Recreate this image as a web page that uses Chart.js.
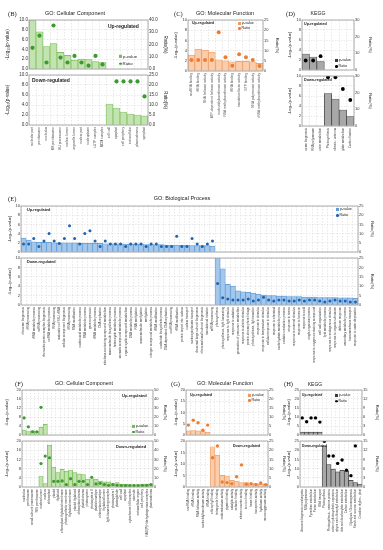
<!DOCTYPE html>
<html>
<head>
<meta charset="utf-8">
<script src="https://cdn.jsdelivr.net/npm/chart.js@4.4.0/dist/chart.umd.min.js"></script>
<style>
html, body { margin: 0; padding: 0; background: #fff; }
#fig { position: relative; width: 383px; height: 550px; overflow: hidden; font-family: "Liberation Sans", Arial, sans-serif; color: #222; }
#fig canvas { position: absolute; }
.t { position: absolute; white-space: nowrap; line-height: 1; transform: translateY(-50%); }
.c { transform: translate(-50%, -50%); }
.pl { font-family: "Liberation Serif", "Times New Roman", serif; font-size: 6.5px; }
.ud { font-weight: bold; }
.sw { display: inline-block; vertical-align: middle; margin-right: 1px; box-sizing: border-box; }
</style>
</head>
<body>
<div id="fig"></div>
<script>
// (B) GO: Cellular Component
const bLabels = ['nucleolar part', 'preribosome', 'nucleolus', '90S preribosome', 'SSU processome', 'nuclear lumen',
  'organelle lumen', 'nuclear part', 'nucleoplasm', 't-UTP complex', 'MCM complex',
  'cell wall', 'apoplast', 'cell periphery', 'extracellular', 'plasmodesma', 'symplast'];
const bUpP = [9.9, 7.6, 4.6, 5.2, 3.4, 2.8, 1.8, 2.0, 1.9, 1.5, 1.3];
const bUpR = [17.3, 27.2, 5.3, 35.5, 9.3, 5.3, 10.7, 5.3, 2.7, 10.7, 3.7];
const bDownP = [4.2, 3.4, 2.6, 2.2, 2.0, 1.8];
const bDownR = [null, 21.8, 21.8, 21.8, 21.8, 14.3];

// (C) GO: Molecular Function
const cLabels = ['snoRNA binding', 'rRNA binding', 'RNA helicase activity', 'ATP-dependent helicase activity',
  'nucleotidyltransferase activity', 'RNA methyltransferase activity', 'tRNA binding',
  'translation factor activity', 'GTP binding', 'RNA polymerase activity', 'rRNA methyltransferase activity'];
const cUpP = [3.1, 4.3, 4.1, 3.7, 2.2, 2.0, 1.8, 1.9, 1.9, 1.8, 1.5];
const cUpR = [5.4, 5.4, 5.4, 5.4, 19.0, 6.7, 2.6, 8.2, 6.7, 5.4, 2.5];

// (D) KEGG
const dLabels = ['Ribosome biogenesis', 'RNA polymerase', 'Purine metabolism', 'Photosynthesis',
  'Photosynthesis - antenna', 'Glyoxylate metabolism', 'Carbon fixation'];
const dUpP = [3.2, 2.6, 1.7];
const dUpR = [5.7, 5.7, 8.3];
const dDownP = [6.5, 5.4, 3.2, 1.9];
const dDownR = [29.2, 29.2, 22.2, 15.6];

// (E) GO: Biological Process
const eUpLabels = ['ribosome biogenesis', 'rRNA processing', 'rRNA metabolic process', 'ncRNA processing',
  'ribonucleoprotein complex biogenesis', 'ncRNA metabolic process', 'RNA processing', 'maturation of SSU-rRNA',
  'cellular component biogenesis', 'tRNA processing', 'RNA modification', 'nucleic acid metabolic process',
  'RNA metabolic process', 'gene expression', 'tRNA metabolic process', 'DNA replication',
  'nucleobase-containing compound metabolism', 'macromolecule biosynthetic process', 'heterocycle metabolic process',
  'aromatic compound metabolic process', 'organic cyclic compound metabolism', 'DNA metabolic process',
  'RNA methylation', 'macromolecule methylation', 'methylation', 'nitrogen compound metabolic process',
  'tRNA modification', 'nucleotide biosynthetic process', 'DNA-dependent DNA replication', 'snoRNA processing',
  'rRNA modification', 'protein import into nucleus', 'nuclear transport', 'nucleocytoplasmic transport',
  'ribosomal large subunit biogenesis', 'ribosomal small subunit biogenesis', 'translational initiation',
  'mRNA processing'];
const eDownLabels = ['photosynthesis', 'photosynthesis, light harvesting', 'response to light stimulus',
  'response to radiation', 'generation of precursor metabolites', 'response to abiotic stimulus',
  'protein-chromophore linkage', 'photosynthesis, light reaction', 'response to stimulus',
  'response to temperature stimulus', 'cellular response to stimulus', 'response to chemical',
  'carbohydrate metabolic process', 'oxidation-reduction process', 'response to stress',
  'response to external stimulus', 'response to hormone', 'response to cold', 'single-organism process',
  'response to oxygen-containing compound', 'cell wall organization', 'lipid metabolic process',
  'response to endogenous stimulus', 'response to organic substance', 'defense response',
  'secondary metabolic process', 'transmembrane transport', 'response to water deprivation'];
const eUpP = [3.0, 2.6, 2.2, 2.1, 2.1, 2.1, 2.0, 2.0, 2.0, 2.0, 2.0, 1.9, 1.9, 1.9, 1.9, 1.9, 1.8, 1.8, 1.8,
  1.8, 1.7, 1.7, 1.7, 1.7, 1.6, 1.6, 1.6, 1.6, 1.5, 1.5, 1.5, 1.5, 1.5, 1.4, 1.4, 1.4, 1.4, 1.3];
const eUpR = [4.4, 4.4, 7.4, 3.0, 6.0, 10.0, 6.0, 4.6, 7.4, 14.3, 7.4, 4.4, 10.0, 11.6, 6.0, 3.0, 6.0, 4.4, 4.4,
  4.4, 3.0, 4.4, 4.4, 4.4, 3.0, 4.4, 4.4, 3.0, 3.0, 3.0, 8.5, 3.0, 3.0, 7.4, 4.4, 3.0, 4.4, 6.0];
const eDownP = [10.5, 7.7, 4.4, 4.0, 3.0, 2.8, 2.7, 2.5, 2.3, 2.1, 2.0, 2.0, 1.9, 1.9, 1.8, 1.8, 1.8, 1.7, 1.7,
  1.7, 1.6, 1.6, 1.6, 1.6, 1.5, 1.5, 1.5, 1.4];
const eDownR = [11.5, 3.9, 3.2, 2.7, 2.7, 2.7, 3.2, 2.1, 2.7, 4.1, 2.7, 2.1, 2.7, 2.7, 2.1, 2.1, 2.7, 2.1, 2.7,
  2.7, 2.1, 1.6, 2.1, 2.7, 2.1, 2.1, 1.6, 1.6];

// (F) GO: Cellular Component
const fLabels = ['nucleolus', 'preribosome', 'small-subunit processome', '90S preribosome', 'nuclear lumen',
  'nucleus', 'chloroplast', 'plastid', 'thylakoid', 'chloroplast thylakoid membrane', 'photosynthetic membrane',
  'thylakoid membrane', 'plastid thylakoid', 'chloroplast stroma', 'plastid stroma', 'photosystem',
  'photosystem II', 'plastid envelope', 'chloroplast envelope', 'thylakoid lumen', 'light-harvesting complex',
  'photosystem I', 'plastoglobule', 'cell wall', 'apoplast', 'cytochrome b6f complex', 'stromule',
  'extracellular region', 'cell periphery', 'NAD(P)H dehydrogenase complex', 'plasmodesma'];
const fUpP = [2.2, 1.5, 1.8, 1.5, 3.5, 4.7];
const fUpR = [19.0, 9.1, 3.6, 3.6, 30.7, null];
const fDownStart = 4;
const fDownP = [4.8, 1.5, 18.2, 8.6, 6.3, 7.7, 6.9, 7.4, 6.3, 5.7, 5.4, 3.4, 3.6, 3.4, 2.6, 2.2, 2.2, 1.5, 1.9,
  1.3, 1.2, 1.1, 1.0, 1.0, 1.1, 1.2, 1.3];
const fDownR = [25.5, 33.6, 31.8, 6.2, 6.2, 6.6, 2.6, 9.1, 2.6, 6.2, 6.2, 2.6, 10.6, 3.3, 4.0, 2.6, 1.8, 2.6,
  1.8, 1.5, 1.5, 1.5, 1.5, 1.5, 1.8, 1.8, 2.6];

// (G) GO: Molecular Function
const gLabels = ['snoRNA binding', 'rRNA binding', 'RNA helicase activity', 'nucleotidyltransferase activity',
  'tRNA binding', 'chlorophyll binding', 'tetrapyrrole binding', 'oxidoreductase activity', 'pigment binding',
  'catalytic activity', 'cofactor binding', 'electron carrier activity', 'iron ion binding', 'heme binding',
  'transporter activity', 'hydrolase activity', 'monooxygenase activity'];
const gUpP = [1.8, 2.0, 1.8, 1.5, 1.3];
const gUpR = [5.5, 8.2, 6.8, 2.6, 5.5];
const gDownP = [17.5, 13.9, 5.1, 4.8, 2.9, 2.5, 1.9, 1.9, 1.5, 1.5, 1.3, 1.2];
const gDownR = [15.9, 22.3, 2.7, 2.4, 1.8, 5.6, 12.0, 1.5, 1.8, 1.3, 2.2, 1.3];

// (H) KEGG
const hLabels = ['Ribosome biogenesis in eukaryotes', 'RNA polymerase', 'Pyrimidine metabolism',
  'Purine metabolism', 'RNA transport', 'Photosynthesis', 'Photosynthesis - antenna proteins',
  'Carbon fixation in photosynthetic organisms', 'Porphyrin and chlorophyll metabolism',
  'Glyoxylate and dicarboxylate metabolism', 'Carbon metabolism', 'Glycolysis / Gluconeogenesis',
  'Starch and sucrose metabolism', 'Circadian rhythm - plant'];
const hUpP = [1.6, 1.6, 1.6, 1.6, 1.6];
const hUpR = [5.7, 4.4, 5.7, 5.7, 4.3];
const hDownP = [22.3, 12.2, 9.7, 8.2, 9.1, 8.6, 3.6, 2.4, 1.5];
const hDownR = [14.9, 10.1, 10.1, 7.7, 8.8, 5.5, 3.7, 13.4, null];

const fig = document.getElementById('fig');
const themes = {
  green: { fill: 'rgba(192,226,172,0.95)', edge: '#74bb52', dot: '#3c9a30' },
  orange: { fill: 'rgba(250,202,168,0.95)', edge: '#f09a60', dot: '#ed7d31' },
  gray: { fill: '#a8a8a8', edge: '#3a3a3a', dot: '#000000' },
  blue: { fill: 'rgba(160,196,234,0.95)', edge: '#5b9bd5', dot: '#1f62ae' }
};

// put a short list into a full-length category list
function place(n, start, vals) {
  const a = new Array(n).fill(null);
  vals.forEach((v, i) => { a[start + i] = v; });
  return a;
}

const frame = {
  id: 'frame',
  afterDatasetsDraw(chart) {
    const a = chart.chartArea, ctx = chart.ctx;
    ctx.save();
    ctx.strokeStyle = '#9a9a9a';
    ctx.lineWidth = 0.8;
    ctx.strokeRect(a.left, a.top, a.right - a.left, a.bottom - a.top);
    ctx.restore();
  }
};

function subplot(o) {
  const [x0, y0, x1, y1] = o.rect;
  const T = 4;
  const w = x1 - x0 + o.L + o.R, h = y1 - y0 + T + o.B;
  const cv = document.createElement('canvas');
  cv.width = w; cv.height = h;
  cv.style.left = (x0 - o.L) + 'px';
  cv.style.top = (y0 - T) + 'px';
  cv.style.width = w + 'px';
  cv.style.height = h + 'px';
  fig.appendChild(cv);
  const th = themes[o.theme];
  const fs = o.fs || 4;
  const fmt = o.dec ? v => v.toFixed(1) : v => v;
  const grid = { color: '#d2d2d2', lineWidth: 0.5, drawTicks: false };
  const border = { display: false, dash: [1.5, 1.5] };
  new Chart(cv, {
    type: 'bar',
    data: {
      labels: o.labels,
      datasets: [
        { type: 'line', data: o.ratio, yAxisID: 'y1', showLine: false, pointRadius: o.pr || 1.6,
          pointBackgroundColor: th.dot, pointBorderWidth: 0, order: 0 },
        { type: 'bar', data: o.bars, yAxisID: 'y', backgroundColor: th.fill, borderColor: th.edge,
          borderWidth: 0.7, categoryPercentage: 1, barPercentage: 1, order: 1 }
      ]
    },
    options: {
      responsive: false, animation: false, devicePixelRatio: 1,
      layout: { padding: { top: T, left: 0, right: 0, bottom: 0 } },
      plugins: { legend: { display: false }, tooltip: { enabled: false } },
      scales: {
        x: {
          grid: grid, border: border,
          ticks: { display: o.showX, autoSkip: false, maxRotation: 90, minRotation: 90,
            font: { size: o.xfs || 3.2 }, color: '#444', padding: 2 },
          afterFit: s => { s.height = o.B; }
        },
        y: {
          position: 'left', min: 0, max: o.ymax,
          ticks: { stepSize: o.ystep, callback: fmt, font: { size: fs }, color: '#333', padding: 1 },
          grid: grid, border: border,
          title: { display: true, text: '-Log₁₀(p-value)', font: { size: o.tfs || 4 }, color: '#222', padding: 0 },
          afterFit: s => { s.width = o.L; }
        },
        y1: {
          position: 'right', min: 0, max: o.rmax,
          ticks: { stepSize: o.rstep, callback: fmt, font: { size: fs }, color: '#333', padding: 1 },
          grid: { display: false, drawTicks: false }, border: { display: false },
          title: { display: true, text: 'Ratio(%)', font: { size: o.tfs || 4 }, color: '#222', padding: 0 },
          afterFit: s => { s.width = o.R; }
        }
      }
    },
    plugins: [frame]
  });
}

function txt(x, y, s, cls, size, center) {
  const d = document.createElement('div');
  d.className = 't ' + (cls || '') + (center ? ' c' : '');
  d.style.left = x + 'px';
  d.style.top = y + 'px';
  if (size) d.style.fontSize = size + 'px';
  d.textContent = s;
  fig.appendChild(d);
}

function legend(x, y, theme, size, gap) {
  const th = themes[theme];
  const r1 = document.createElement('div');
  r1.className = 't';
  r1.style.cssText = `left:${x}px;top:${y}px;font-size:${size}px`;
  r1.innerHTML = `<span class="sw" style="width:3px;height:3px;background:${th.fill};border:0.6px solid ${th.edge}"></span>p-value`;
  fig.appendChild(r1);
  const r2 = document.createElement('div');
  r2.className = 't';
  r2.style.cssText = `left:${x}px;top:${y + gap}px;font-size:${size}px`;
  r2.innerHTML = `<span class="sw" style="width:2.6px;height:2.6px;border-radius:50%;background:${th.dot}"></span>Ratio`;
  fig.appendChild(r2);
}

// ---- B
const nB = bLabels.length;
subplot({ rect: [29, 20, 148, 70], L: 24, R: 20, B: 3, labels: bLabels, theme: 'green', showX: false,
  bars: place(nB, 0, bUpP), ratio: place(nB, 0, bUpR), ymax: 10, ystep: 2, rmax: 40, rstep: 10,
  dec: true, fs: 4.5, tfs: 4.6, pr: 2.1 });
subplot({ rect: [29, 75, 148, 125], L: 24, R: 20, B: 25, labels: bLabels, theme: 'green', showX: true,
  bars: place(nB, 11, bDownP), ratio: place(nB, 11, bDownR), ymax: 10, ystep: 2, rmax: 25, rstep: 5,
  dec: true, fs: 4.5, tfs: 4.6, pr: 2.1, xfs: 3.2 });
// ---- C
subplot({ rect: [188, 20, 263, 71], L: 15, R: 17, B: 56, labels: cLabels, theme: 'orange', showX: true,
  bars: cUpP, ratio: cUpR, ymax: 10, ystep: 2, rmax: 25, rstep: 5, pr: 2.0, xfs: 3.2 });
// ---- D
const nD = dLabels.length;
subplot({ rect: [302, 20, 354, 71], L: 15, R: 19, B: 3, labels: dLabels, theme: 'gray', showX: false,
  bars: place(nD, 0, dUpP), ratio: place(nD, 0, dUpR), ymax: 10, ystep: 2, rmax: 30, rstep: 10, pr: 1.9 });
subplot({ rect: [302, 76, 354, 126], L: 15, R: 19, B: 25, labels: dLabels, theme: 'gray', showX: true,
  bars: place(nD, 3, dDownP), ratio: place(nD, 3, dDownR), ymax: 10, ystep: 2, rmax: 30, rstep: 10,
  pr: 1.9, xfs: 3.0 });
// ---- E
const eLabels = eUpLabels.concat(eDownLabels);
const nE = eLabels.length;
subplot({ rect: [21, 206, 358, 253], L: 14, R: 17, B: 3, labels: eLabels, theme: 'blue', showX: false,
  bars: place(nE, 0, eUpP), ratio: place(nE, 0, eUpR), ymax: 10, ystep: 2, rmax: 25, rstep: 5, pr: 1.5 });
subplot({ rect: [21, 258, 358, 305], L: 14, R: 17, B: 60, labels: eLabels, theme: 'blue', showX: true,
  bars: place(nE, eUpP.length, eDownP), ratio: place(nE, eUpP.length, eDownR), ymax: 10, ystep: 2,
  rmax: 25, rstep: 5, pr: 1.5, xfs: 3.0 });
// ---- F
const nF = fLabels.length;
subplot({ rect: [22, 390, 153, 436], L: 18, R: 15, B: 3, labels: fLabels, theme: 'green', showX: false,
  bars: place(nF, 0, fUpP), ratio: place(nF, 0, fUpR), ymax: 20, ystep: 4, rmax: 50, rstep: 10, pr: 1.6 });
subplot({ rect: [22, 441, 153, 487], L: 18, R: 15, B: 62, labels: fLabels, theme: 'green', showX: true,
  bars: place(nF, fDownStart, fDownP), ratio: place(nF, fDownStart, fDownR), ymax: 20, ystep: 4,
  rmax: 50, rstep: 10, pr: 1.6, xfs: 3.1 });
// ---- G
const nG = gLabels.length;
subplot({ rect: [186, 390, 268, 436], L: 13, R: 19, B: 3, labels: gLabels, theme: 'orange', showX: false,
  bars: place(nG, 0, gUpP), ratio: place(nG, 0, gUpR), ymax: 20, ystep: 5, rmax: 25, rstep: 5, pr: 1.7 });
subplot({ rect: [186, 441, 268, 487], L: 13, R: 19, B: 45, labels: gLabels, theme: 'orange', showX: true,
  bars: place(nG, 5, gDownP), ratio: place(nG, 5, gDownR), ymax: 20, ystep: 5, rmax: 25, rstep: 5,
  pr: 1.7, xfs: 3.0 });
// ---- H
const nH = hLabels.length;
subplot({ rect: [300, 390, 362, 436], L: 14, R: 18, B: 3, labels: hLabels, theme: 'gray', showX: false,
  bars: place(nH, 0, hUpP), ratio: place(nH, 0, hUpR), ymax: 25, ystep: 5, rmax: 15, rstep: 3, pr: 1.7 });
subplot({ rect: [300, 441, 362, 487], L: 14, R: 18, B: 45, labels: hLabels, theme: 'gray', showX: true,
  bars: place(nH, 5, hDownP), ratio: place(nH, 5, hDownR), ymax: 25, ystep: 5, rmax: 15, rstep: 3,
  pr: 1.7, xfs: 2.8 });

// titles
txt(8, 14, '(B)', 'pl');
txt(75, 14, 'GO: Cellular Component', '', 5.5, true);
txt(174, 14, '(C)', 'pl');
txt(225, 14, 'GO: Molecular Function', '', 5.5, true);
txt(286, 14, '(D)', 'pl');
txt(318, 14, 'KEGG', '', 5.2, true);
txt(8, 199, '(E)', 'pl');
txt(182, 199, 'GO: Biological Process', '', 5.5, true);
txt(15, 384, '(F)', 'pl');
txt(84, 384, 'GO: Cellular Component', '', 5.3, true);
txt(171, 384, '(G)', 'pl');
txt(225, 384, 'GO: Molecular Function', '', 5.3, true);
txt(284, 384, '(H)', 'pl');
txt(315, 384, 'KEGG', '', 5.0, true);

// up / down tags
txt(108, 26, 'Up-regulated', 'ud', 5.0);
txt(32, 80, 'Down-regulated', 'ud', 5.0);
txt(192, 24, 'Up-regulated', 'ud', 3.6);
txt(304, 25, 'Up-regulated', 'ud', 3.7);
txt(304, 81, 'Down-regulated', 'ud', 3.7);
txt(27, 211, 'Up-regulated', 'ud', 3.8);
txt(27, 263, 'Down-regulated', 'ud', 3.8);
txt(122, 396, 'Up-regulated', 'ud', 4.0);
txt(116, 447, 'Down-regulated', 'ud', 4.0);
txt(190, 396, 'Up-regulated', 'ud', 3.6);
txt(233, 447, 'Down-regulated', 'ud', 3.6);
txt(302, 396, 'Up-regulated', 'ud', 3.3);
txt(302, 447, 'Down-regulated', 'ud', 3.3);

// legends
legend(119, 57, 'green', 4.3, 7);
legend(238, 24, 'orange', 3.6, 5);
legend(335, 61, 'gray', 3.6, 6);
legend(336, 210, 'blue', 3.6, 6);
legend(132, 427, 'green', 3.7, 5.5);
legend(248, 396, 'orange', 3.6, 5.2);
legend(335, 396, 'gray', 3.5, 5.5);
</script>
</body>
</html>
